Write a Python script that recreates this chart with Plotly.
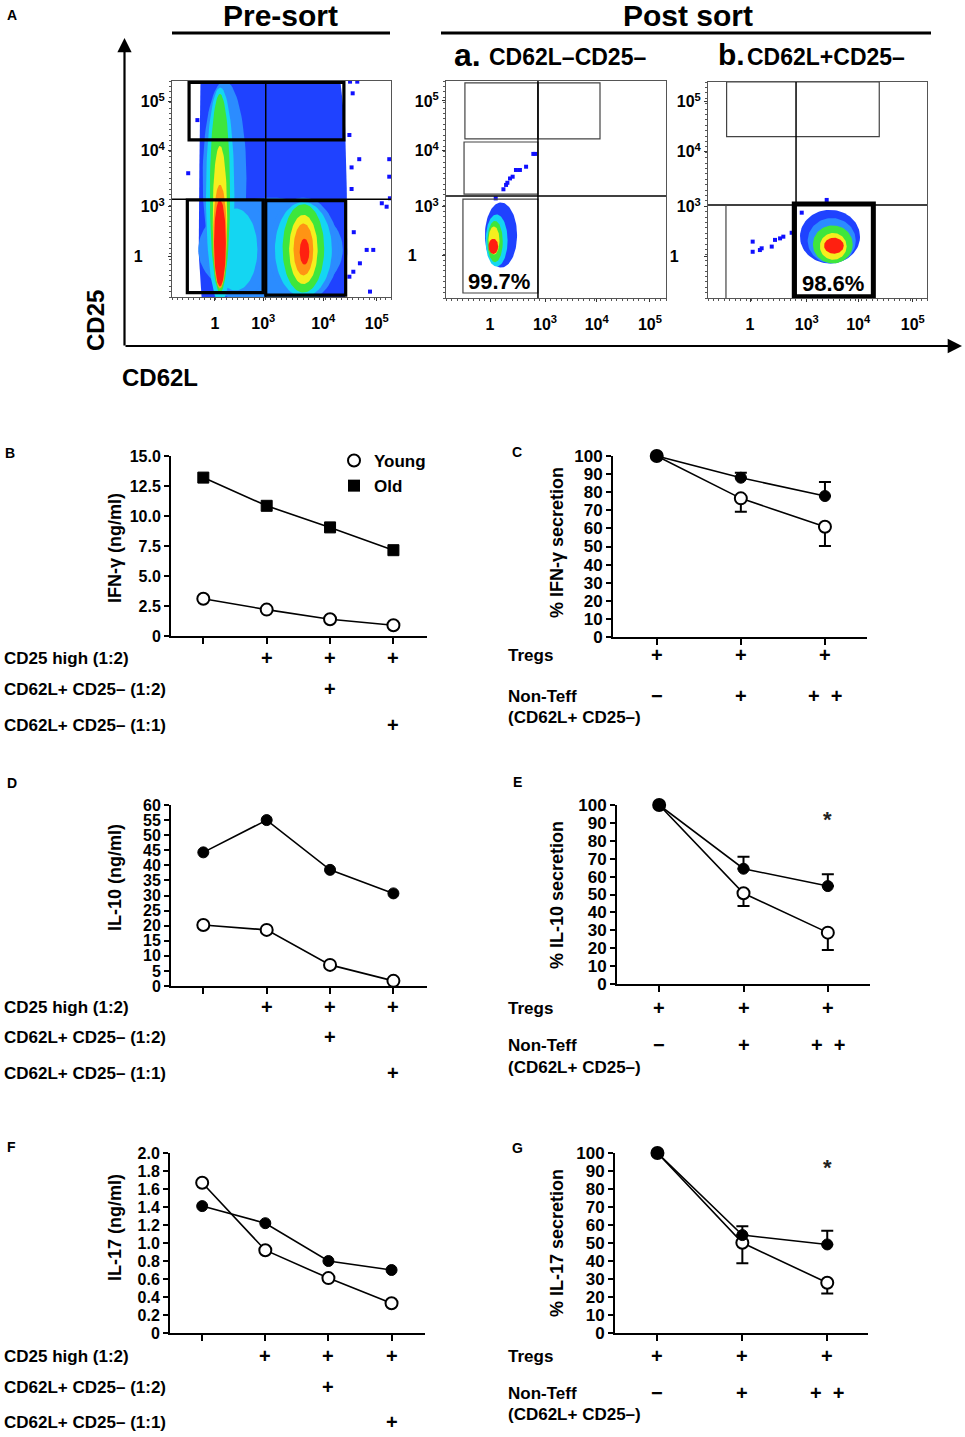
import numpy as np
import plotly.graph_objects as go

W, H = 965, 1437
FONT = "Liberation Sans, Arial, Helvetica, sans-serif"

# ====================== DATA ======================
# ---- Panel A: flow cytometry (display scale: 0-100 % of plot width / height) ----
flow_tick_text_x = ["1", "10<sup>3</sup>", "10<sup>4</sup>", "10<sup>5</sup>"]
flow_tick_text_y = ["1" + "\u00a0" * 5, "10<sup>3</sup>", "10<sup>4</sup>", "10<sup>5</sup>"]
presort_xticks = [19.6, 41.7, 69.1, 93.5]
presort_yticks = [18.7, 41.8, 67.7, 90.4]
posta_xticks = [20.0, 45.0, 68.5, 92.7]
posta_yticks = [19.8, 42.1, 67.9, 90.8]
postb_xticks = [19.2, 45.1, 68.6, 93.5]
postb_yticks = [19.1, 42.3, 67.7, 90.9]

# pre-sort: low-density envelope (polygon) and density levels (ellipses)
presort_base_x = [13.5, 12.2, 12.5, 13.0, 30.0, 60.0, 77.0, 79.0, 79.8, 80.0, 79.0, 60.0, 30.0]
presort_base_y = [0.0, 20.0, 60.0, 100.0, 100.0, 100.0, 99.0, 80.0, 50.0, 20.0, 0.0, 0.0, 0.0]
presort_level = ["lightblue", "lightblue", "lightblue", "lightblue",
                 "cyan", "cyan", "cyan",
                 "green", "green", "yellow", "yellow", "orange", "orange", "red", "red"]
presort_cx = [24, 45, 30, 60, 22, 29, 60, 21.9, 60, 21.9, 60, 21.9, 60, 21.9, 60.5]
presort_cy = [55, 22, 22, 22, 47, 22, 22, 48, 22.5, 37, 22, 28, 22, 25, 21]
presort_rx = [10, 33, 15, 16, 6.5, 10, 13, 4.6, 9.5, 3.3, 6.5, 3.1, 4.5, 2.7, 2.2]
presort_ry = [45, 24, 23, 24, 50, 19, 22, 46, 20.5, 33, 16, 24, 12, 20, 6]
presort_out_x = [99.2, 99.2, 99.5, 95.8, 98.0, 88.9, 91.9, 85.8, 82.8, 90.4, 81.0, 82.5, 81.3, 84.6, 85.5, 7.4, 11.6, 82.0, 83.0, 81.0, 82.0]
presort_out_y = [63.8, 55.7, 45.7, 43.4, 41.8, 21.8, 21.8, 15.6, 11.7, 2.5, 9.4, 94.3, 99.7, 99.7, 63.8, 57.3, 81.9, 60.0, 30.0, 75.0, 50.0]
presort_gate_x0 = [7.8, 7.0, 42.8]
presort_gate_x1 = [78.5, 41.6, 79.3]
presort_gate_y0 = [72.7, 2.0, 0.9]
presort_gate_y1 = [99.4, 44.9, 44.6]
presort_quad = [42.8, 45.2]

# post-sort a (CD62L-CD25-)
posta_level = ["blue", "cyan", "green", "yellow", "red"]
posta_cx = [25.0, 23.0, 22.3, 21.8, 21.5]
posta_cy = [29.0, 26.5, 26.0, 26.5, 23.8]
posta_rx = [7.3, 5.0, 3.5, 2.5, 2.2]
posta_ry = [15.0, 12.0, 9.5, 6.5, 3.5]
posta_dot_x = [22.6, 26.1, 27.3, 27.9, 29.1, 30.3, 31.8, 33.6, 36.4, 39.7, 40.5]
posta_dot_y = [45.9, 50.1, 52.1, 53.1, 55.1, 55.9, 59.0, 59.0, 60.5, 66.4, 66.4]
posta_gate_x0 = [8.6, 41.8, 8.2, 7.7]
posta_gate_x1 = [41.8, 70.0, 41.8, 41.8]
posta_gate_y0 = [73.3, 73.3, 47.9, 2.3]
posta_gate_y1 = [99.1, 99.1, 71.9, 45.6]
posta_quad = [41.8, 47.0]
posta_purity = ["99.7%", 24.1, 7.5]

# post-sort b (CD62L+CD25-)
postb_level = ["blue", "lightblue", "green", "yellow", "red"]
postb_cx = [55.7, 56.5, 57.0, 57.2, 57.5]
postb_cy = [28.4, 26.5, 24.8, 23.9, 24.2]
postb_rx = [13.7, 11.0, 9.1, 6.1, 4.5]
postb_ry = [12.4, 10.5, 8.8, 6.2, 3.7]
postb_dot_x = [20.4, 20.4, 24.5, 23.7, 29.1, 30.6, 32.9, 34.4, 38.2, 42.8, 54.2]
postb_dot_y = [26.1, 21.4, 23.0, 22.2, 23.8, 26.9, 27.6, 28.4, 30.2, 39.5, 45.4]
postb_gate = [8.5, 78.2, 74.7, 100.0]          # x0, x1, y0, y1 (thin)
postb_sort_gate = [39.4, 75.5, 0.6, 43.5]      # sorted (thick) gate
postb_quad = [40.2, 43.1]
postb_left_line_x = 8.2
postb_purity = ["98.6%", 57.2, 6.8]

# ---- Panels B, D, F: absolute cytokine levels ----
conditions_bdf = ["Teff", "Teff+CD25hi", "Teff+CD25hi+CD62L+CD25- (1:2)", "Teff+CD25hi+CD62L+CD25- (1:1)"]
ifng_young = [3.1, 2.2, 1.4, 0.9]
ifng_old = [13.2, 10.85, 9.05, 7.15]
il10_young = [20.2, 18.6, 7.0, 1.7]
il10_old = [44.3, 55.0, 38.5, 30.7]
il17_young = [1.67, 0.92, 0.61, 0.33]
il17_old = [1.41, 1.22, 0.80, 0.70]
rows_bdf = ["CD25 high (1:2)", "CD62L+ CD25\u2013 (1:2)", "CD62L+ CD25\u2013 (1:1)"]
signs_bdf = [["", "+", "+", "+"], ["", "", "+", ""], ["", "", "", "+"]]

# ---- Panels C, E, G: % secretion (mean, one-sided SEM) ----
conditions_ceg = ["Tregs", "Tregs+Non-Teff", "Tregs+Non-Teff x2"]
pct_ifng_young = [100, 76.6, 60.9]
pct_ifng_young_err = [None, 7.4, 10.6]
pct_ifng_old = [100, 88.0, 77.9]
pct_ifng_old_err = [None, 2.8, 7.7]
pct_il10_young = [100, 50.7, 28.7]
pct_il10_young_err = [None, 7.1, 9.7]
pct_il10_old = [100, 64.4, 54.7]
pct_il10_old_err = [None, 6.7, 6.6]
pct_il17_young = [100, 50.1, 27.9]
pct_il17_young_err = [None, 11.4, 5.9]
pct_il17_old = [100, 54.4, 49.2]
pct_il17_old_err = [None, 4.9, 7.6]
signs_tregs = ["+", "+", "+"]
signs_nonteff = ["\u2212", "+", "+\u00a0\u00a0+"]

# tick labels
ticks_ifng = [0, 2.5, 5, 7.5, 10, 12.5, 15]
ticklabels_ifng = ["0", "2.5", "5.0", "7.5", "10.0", "12.5", "15.0"]
ticks_il10 = [0, 5, 10, 15, 20, 25, 30, 35, 40, 45, 50, 55, 60]
ticks_il17 = [0, 0.2, 0.4, 0.6, 0.8, 1.0, 1.2, 1.4, 1.6, 1.8, 2.0]
ticklabels_il17 = ["0", "0.2", "0.4", "0.6", "0.8", "1.0", "1.2", "1.4", "1.6", "1.8", "2.0"]
ticks_pct = [0, 10, 20, 30, 40, 50, 60, 70, 80, 90, 100]

# ====================== HELPERS ======================
def fx(v):
    return v / W


def fy(v):
    return 1 - v / H


def dom_x(a, b):
    return [a / W, b / W]


def dom_y(top, bottom):
    return [1 - bottom / H, 1 - top / H]


def bold(size, color="black"):
    return dict(family=FONT, size=size, color=color, weight="bold")


density_colors = {"blue": "#1f42ff", "lightblue": "#2b8cff", "cyan": "#14d6f2",
                  "green": "#3ee63c", "yellow": "#f5ee1e", "orange": "#ff9414", "red": "#ff2010"}

fig = go.Figure()
layout = {}
shapes = []
annotations = []


def add_population(xa, ya, levels, cx, cy, rx, ry):
    t = np.linspace(0, 2 * np.pi, 90)
    for lev, a, b, r1, r2 in zip(levels, cx, cy, rx, ry):
        c = density_colors[lev]
        fig.add_trace(go.Scatter(x=a + r1 * np.cos(t), y=b + r2 * np.sin(t), mode="lines",
                                 fill="toself", fillcolor=c, line=dict(width=0, color=c),
                                 hoverinfo="skip", showlegend=False, xaxis=xa, yaxis=ya))


def add_dots(xa, ya, xs, ys):
    fig.add_trace(go.Scatter(x=xs, y=ys, mode="markers",
                             marker=dict(symbol="square", size=4, color="#1010ff"),
                             hoverinfo="skip", showlegend=False, xaxis=xa, yaxis=ya))


def flow_axes(n, xd, yd, xt, yt):
    s = "" if n == 1 else str(n)
    layout["xaxis" + s] = dict(domain=xd, range=[0, 100], tickvals=xt, ticktext=flow_tick_text_x,
                               ticks="outside", ticklen=3, tickwidth=1, tickcolor="#333",
                               showline=True, mirror=True, linecolor="#555", linewidth=1,
                               showgrid=False, zeroline=False, tickfont=bold(16), automargin=False,
                               ticklabelstandoff=9, anchor="y" + s,
                               minor=dict(ticks="outside", ticklen=2, tickcolor="#555",
                                          tick0=0, dtick=2.5, showgrid=False))
    layout["yaxis" + s] = dict(domain=yd, range=[0, 100], tickvals=yt, ticktext=flow_tick_text_y,
                               ticks="outside", ticklen=3, tickwidth=1, tickcolor="#333",
                               showline=True, mirror=True, linecolor="#555", linewidth=1,
                               showgrid=False, zeroline=False, tickfont=bold(16), automargin=False,
                               anchor="x" + s,
                               minor=dict(ticks="outside", ticklen=2, tickcolor="#555",
                                          tick0=0, dtick=2.5, showgrid=False))


def rect(xa, ya, x0, x1, y0, y1, width, color="black"):
    shapes.append(dict(type="rect", xref=xa, yref=ya, x0=x0, x1=x1, y0=y0, y1=y1,
                       line=dict(color=color, width=width), fillcolor="rgba(0,0,0,0)", layer="above"))


def seg(xa, ya, x0, x1, y0, y1, width, color="black"):
    shapes.append(dict(type="line", xref=xa, yref=ya, x0=x0, x1=x1, y0=y0, y1=y1,
                       line=dict(color=color, width=width), layer="above"))


# ====================== PANEL A ======================
flow_axes(1, dom_x(172, 391), dom_y(81, 297), presort_xticks, presort_yticks)
flow_axes(2, dom_x(446, 666), dom_y(81, 298), posta_xticks, posta_yticks)
flow_axes(3, dom_x(708, 927), dom_y(82, 298), postb_xticks, postb_yticks)

# pre-sort
fig.add_trace(go.Scatter(x=presort_base_x, y=presort_base_y, mode="lines", fill="toself",
                         fillcolor=density_colors["blue"], line=dict(width=0),
                         hoverinfo="skip", showlegend=False, xaxis="x", yaxis="y"))
add_population("x", "y", presort_level, presort_cx, presort_cy, presort_rx, presort_ry)
add_dots("x", "y", presort_out_x, presort_out_y)
seg("x", "y", presort_quad[0], presort_quad[0], 0, 100, 1.5)
seg("x", "y", 0, 100, presort_quad[1], presort_quad[1], 1.5)
for a, b, c, d in zip(presort_gate_x0, presort_gate_x1, presort_gate_y0, presort_gate_y1):
    rect("x", "y", a, b, c, d, 3.2)

# post-sort a
add_population("x2", "y2", posta_level, posta_cx, posta_cy, posta_rx, posta_ry)
add_dots("x2", "y2", posta_dot_x, posta_dot_y)
for a, b, c, d in zip(posta_gate_x0, posta_gate_x1, posta_gate_y0, posta_gate_y1):
    rect("x2", "y2", a, b, c, d, 1.2, "#444")
seg("x2", "y2", posta_quad[0], posta_quad[0], 0, 100, 1.5)
seg("x2", "y2", 0, 100, posta_quad[1], posta_quad[1], 1.5)
annotations.append(dict(x=posta_purity[1], y=posta_purity[2], xref="x2", yref="y2",
                        text=posta_purity[0], showarrow=False, font=bold(22)))

# post-sort b
add_population("x3", "y3", postb_level, postb_cx, postb_cy, postb_rx, postb_ry)
add_dots("x3", "y3", postb_dot_x, postb_dot_y)
rect("x3", "y3", postb_gate[0], postb_gate[1], postb_gate[2], postb_gate[3], 1.2, "#444")
seg("x3", "y3", postb_quad[0], postb_quad[0], 0, 100, 1.5)
seg("x3", "y3", 0, 100, postb_quad[1], postb_quad[1], 1.5)
seg("x3", "y3", postb_left_line_x, postb_left_line_x, 0, postb_quad[1], 1.2, "#444")
rect("x3", "y3", postb_sort_gate[0], postb_sort_gate[1], postb_sort_gate[2], postb_sort_gate[3], 5)
annotations.append(dict(x=postb_purity[1], y=postb_purity[2], xref="x3", yref="y3",
                        text=postb_purity[0], showarrow=False, font=bold(22)))

# titles, underlines, big axes arrows
def ptext(text, x, y, size, xanchor="center", angle=0):
    annotations.append(dict(text=text, x=fx(x), y=fy(y), xref="paper", yref="paper",
                            showarrow=False, font=bold(size), xanchor=xanchor, yanchor="middle",
                            textangle=angle))


ptext("A", 12, 15, 14)
ptext("Pre-sort", 280, 15, 30)
ptext("Post sort", 688, 15, 30)
shapes.append(dict(type="line", xref="paper", yref="paper", x0=fx(172), x1=fx(390), y0=fy(33), y1=fy(33),
                   line=dict(color="black", width=3)))
shapes.append(dict(type="line", xref="paper", yref="paper", x0=fx(441), x1=fx(931), y0=fy(33), y1=fy(33),
                   line=dict(color="black", width=3)))
ptext("a.", 452, 55, 32, "left")
ptext("CD62L\u2013CD25\u2013", 487, 57, 23, "left")
ptext("b.", 716, 55, 30, "left")
ptext("CD62L+CD25\u2013", 745, 57, 23, "left")
ptext("CD25", 95, 321, 24, angle=-90)
ptext("CD62L", 160, 377, 24)
annotations.append(dict(x=fx(124.5), y=fy(38), xref="paper", yref="paper", text="", showarrow=True,
                        ax=0, ay=309, arrowhead=2, arrowsize=1.3, arrowwidth=2.2, arrowcolor="black"))
annotations.append(dict(x=fx(962), y=fy(346), xref="paper", yref="paper", text="", showarrow=True,
                        ax=-838, ay=0, arrowhead=2, arrowsize=1.3, arrowwidth=2.2, arrowcolor="black"))

# ====================== PANELS B-G ======================
def line_panel(n, xd, yd, cats, xrange, ymax, tickvals, ticktext, young, old, old_symbol,
               young_err=None, old_err=None, tick_size=16):
    s = str(n)
    layout["xaxis" + s] = dict(domain=xd, type="category", categoryorder="array", categoryarray=cats,
                               range=xrange, showline=True, linecolor="black", linewidth=2,
                               ticks="outside", ticklen=6, tickwidth=2, tickcolor="black", automargin=False,
                               showticklabels=False, showgrid=False, zeroline=False, anchor="y" + s)
    layout["yaxis" + s] = dict(domain=yd, range=[0, ymax], tickvals=tickvals, ticktext=ticktext,
                               ticks="outside", ticklen=5, tickwidth=2, tickcolor="black",
                               showline=True, linecolor="black", linewidth=2, showgrid=False, automargin=False,
                               zeroline=False, tickfont=bold(tick_size), anchor="x" + s)
    ey_young = None
    ey_old = None
    if young_err is not None:
        ey_young = dict(type="data", symmetric=False, array=[0 if v is not None else None for v in young_err],
                        arrayminus=young_err, color="black", thickness=2, width=6)
    if old_err is not None:
        ey_old = dict(type="data", symmetric=False, array=old_err,
                      arrayminus=[0 if v is not None else None for v in old_err],
                      color="black", thickness=2, width=6)
    fig.add_trace(go.Scatter(x=cats, y=young, mode="lines+markers", name="Young",
                             line=dict(color="black", width=1.6), cliponaxis=False,
                             marker=dict(symbol="circle", size=12, color="white",
                                         line=dict(color="black", width=2)),
                             error_y=ey_young, showlegend=False, xaxis="x" + s, yaxis="y" + s))
    fig.add_trace(go.Scatter(x=cats, y=old, mode="lines+markers", name="Old",
                             line=dict(color="black", width=1.6), cliponaxis=False,
                             marker=dict(symbol=old_symbol, size=11, color="black",
                                         line=dict(color="black", width=1)),
                             error_y=ey_old, showlegend=False, xaxis="x" + s, yaxis="y" + s))


line_panel(4, dom_x(171, 427), dom_y(456, 636), conditions_bdf, [-0.51, 3.53], 15,
           ticks_ifng, ticklabels_ifng, ifng_young, ifng_old, "square")
line_panel(5, dom_x(613, 867), dom_y(456, 637), conditions_ceg, [-0.52, 2.5], 100,
           ticks_pct, [str(v) for v in ticks_pct], pct_ifng_young, pct_ifng_old, "circle",
           pct_ifng_young_err, pct_ifng_old_err, 17)
line_panel(6, dom_x(171, 427), dom_y(805, 986), conditions_bdf, [-0.51, 3.53], 60,
           ticks_il10, [str(v) for v in ticks_il10], il10_young, il10_old, "circle")
line_panel(7, dom_x(617, 870), dom_y(805, 984), conditions_ceg, [-0.5, 2.5], 100,
           ticks_pct, [str(v) for v in ticks_pct], pct_il10_young, pct_il10_old, "circle",
           pct_il10_young_err, pct_il10_old_err, 17)
line_panel(8, dom_x(170, 425), dom_y(1153, 1333), conditions_bdf, [-0.51, 3.53], 2.0,
           ticks_il17, ticklabels_il17, il17_young, il17_old, "circle")
line_panel(9, dom_x(615, 868), dom_y(1153, 1333), conditions_ceg, [-0.5, 2.48], 100,
           ticks_pct, [str(v) for v in ticks_pct], pct_il17_young, pct_il17_old, "circle",
           pct_il17_young_err, pct_il17_old_err, 17)

# legend (panel B)
fig.add_trace(go.Scatter(x=[None], y=[None], mode="markers", name="Young",
                         marker=dict(symbol="circle", size=12, color="white", line=dict(color="black", width=2)),
                         xaxis="x4", yaxis="y4", showlegend=True))
fig.add_trace(go.Scatter(x=[None], y=[None], mode="markers", name="Old",
                         marker=dict(symbol="square", size=12, color="black"),
                         xaxis="x4", yaxis="y4", showlegend=True))

# panel letters and y titles
for letter, x, y in [("B", 10, 453), ("C", 517, 452), ("D", 12, 783), ("E", 517, 782),
                     ("F", 11, 1147), ("G", 517, 1148)]:
    ptext(letter, x, y, 14)
for title, x, y in [("IFN-\u03b3 (ng/ml)", 115, 548), ("% IFN-\u03b3 secretion", 557, 543),
                    ("IL-10 (ng/ml)", 115, 878), ("% IL-10 secretion", 557, 895),
                    ("IL-17 (ng/ml)", 115, 1228), ("% IL-17 secretion", 557, 1243)]:
    ptext(title, x, y, 18, angle=-90)

# condition rows under B, D, F
for xa, ys in [("x4", [658, 689, 725]), ("x6", [1007, 1037, 1073]), ("x8", [1356, 1387, 1422])]:
    for label, signs, y in zip(rows_bdf, signs_bdf, ys):
        ptext(label, 2, y, 17, "left")
        for i, sgn in enumerate(signs):
            if sgn:
                annotations.append(dict(text=sgn, x=i, y=fy(y), xref=xa, yref="paper", showarrow=False,
                                        font=bold(20), xanchor="center", yanchor="middle"))

# condition rows under C, E, G
for xa, ys in [("x5", [655, 696, 717]), ("x7", [1008, 1045, 1067]), ("x9", [1356, 1393, 1414])]:
    ptext("Tregs", 506, ys[0], 17, "left")
    ptext("Non-Teff", 506, ys[1], 17, "left")
    ptext("(CD62L+ CD25\u2013)", 506, ys[2], 17, "left")
    for i, sgn in enumerate(signs_tregs):
        annotations.append(dict(text=sgn, x=i, y=fy(ys[0]), xref=xa, yref="paper", showarrow=False,
                                font=bold(20), xanchor="center", yanchor="middle"))
    for i, sgn in enumerate(signs_nonteff):
        annotations.append(dict(text=sgn, x=i, y=fy(ys[1]), xref=xa, yref="paper", showarrow=False,
                                font=bold(20), xanchor="center", yanchor="middle"))

# significance stars
for xa, y in [("x7", 819), ("x9", 1167)]:
    annotations.append(dict(text="*", x=2, y=fy(y), xref=xa, yref="paper", showarrow=False,
                            font=bold(22, "#222"), xanchor="center", yanchor="middle"))

fig.update_layout(
    width=W, height=H, margin=dict(l=0, r=0, t=0, b=0, pad=0, autoexpand=False),
    paper_bgcolor="white", plot_bgcolor="white",
    font=dict(family=FONT, color="black"),
    showlegend=True,
    legend=dict(x=fx(334), y=fy(443), xanchor="left", yanchor="top", font=bold(17),
                bgcolor="rgba(0,0,0,0)", borderwidth=0, tracegroupgap=0, itemclick=False),
    shapes=shapes, annotations=annotations, **layout,
)

fig.write_html("out.html", config={"displayModeBar": False, "staticPlot": True},
               post_script="document.body.style.margin='0px';document.body.style.padding='0px';")
